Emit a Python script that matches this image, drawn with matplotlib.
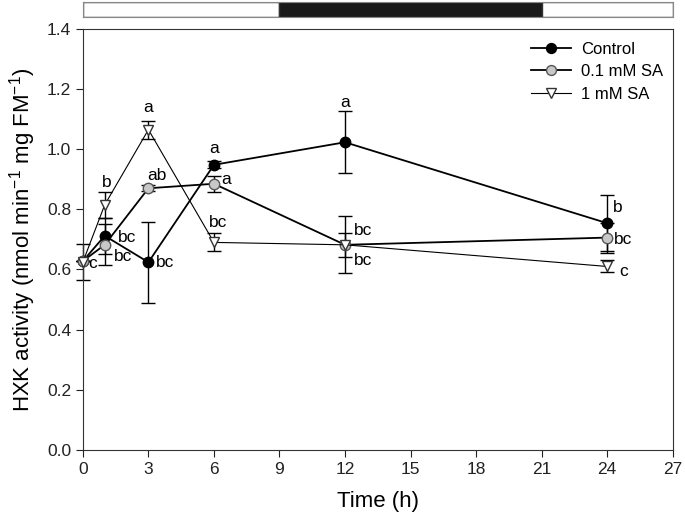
import matplotlib
matplotlib.use("Agg")
import matplotlib.pyplot as plt
import numpy as np

plt.rcParams['font.family'] = ['Liberation Sans', 'DejaVu Sans']
plt.rcParams['mathtext.fontset'] = 'custom'
plt.rcParams['mathtext.rm'] = 'Liberation Sans'
plt.rcParams['mathtext.it'] = 'Liberation Sans:italic'

# sampling times (h)
time_h = [0, 1, 3, 6, 12, 24]

# HXK activity, nmol min-1 mg FM-1
control = [0.628, 0.712, 0.624, 0.948, 1.023, 0.754]
control_err = [0.0, 0.06, 0.134, 0.012, 0.103, 0.093]
sa_01 = [0.628, 0.682, 0.870, 0.885, 0.682, 0.706]
sa_01_err = [0.0, 0.068, 0.010, 0.027, 0.095, 0.05]
sa_1 = [0.625, 0.815, 1.065, 0.690, 0.682, 0.610]
sa_1_err = [0.06, 0.044, 0.03, 0.03, 0.04, 0.02]

# significance letters
control_letters = ["", "bc", "bc", "a", "a", "b"]
sa_01_letters = ["", "bc", "ab", "a", "bc", "bc"]
sa_1_letters = ["c", "b", "a", "bc", "bc", "c"]

# light / dark periods for the bar on top
period_start = [0, 9, 21]
period_len = [9, 12, 6]
period_color = ["white", "#1a1a1a", "white"]

# letter offsets in pixels (placement only)
control_off = [(0, 0), (22, -2), (17, 0), (0, 16), (0, 40), (11, 16)]
sa_01_off = [(0, 0), (18, -12), (9, 13), (12, 4), (18, 14), (16, -2)]
sa_1_off = [(10, -2), (2, 22), (0, 22), (4, 20), (18, -16), (16, -5)]

fig = plt.figure(figsize=(6.85, 5.25), dpi=100)
ax = fig.add_axes([0.121, 0.143, 0.861, 0.802])
bar_ax = fig.add_axes([0.121, 0.968, 0.861, 0.0286])

series = [
    ("Control", control, control_err, dict(marker="o", color="black", mfc="black", mec="black", lw=1.3, ms=7.5)),
    ("0.1 mM SA", sa_01, sa_01_err, dict(marker="o", color="black", mfc="#c8c8c8", mec="#555555", lw=1.3, ms=7.5)),
    ("1 mM SA", sa_1, sa_1_err, dict(marker="v", color="black", mfc="white", mec="#333333", lw=0.8, ms=7)),
]

handles = []
for name, vals, err, st in series:
    eb = ax.errorbar(time_h, vals, yerr=err, fmt="none", ecolor="black", elinewidth=1.0,
                     capsize=5, capthick=1.0, zorder=2)
    for art in eb.lines[1] + eb.lines[2]:
        art.set_clip_on(False)
    h, = ax.plot(time_h, vals, linestyle="-", label=name, zorder=3, clip_on=False, **st)
    handles.append(h)

for vals, letters, offs in [(control, control_letters, control_off),
                            (sa_01, sa_01_letters, sa_01_off),
                            (sa_1, sa_1_letters, sa_1_off)]:
    for t, v, lab, off in zip(time_h, vals, letters, offs):
        if lab:
            ax.annotate(lab, (t, v), xytext=off, textcoords="offset pixels",
                        ha="center", va="center", fontsize=12.5)

ax.set_xlim(0, 27)
ax.set_ylim(0, 1.4)
ax.set_xticks(np.arange(0, 28, 3))
ax.set_yticks(np.arange(0, 1.41, 0.2))
ax.set_yticklabels(["%.1f" % v for v in np.arange(0, 1.41, 0.2)])
ax.tick_params(direction="out", length=5, labelsize=12.5, colors="#222222")
for s in ax.spines.values():
    s.set_color("#333333")
ax.set_xlabel("Time (h)", fontsize=16, labelpad=10)
ax.set_ylabel("HXK activity (nmol min$^{-1}$ mg FM$^{-1}$)", fontsize=16, labelpad=6)

leg = ax.legend(handles=handles, loc="upper right", frameon=False, fontsize=12,
                markerscale=0.95, handlelength=2.4, bbox_to_anchor=(1.01, 1.005),
                labelspacing=0.45, handletextpad=0.6)

bar_ax.barh([0, 0, 0], period_len, left=period_start, color=period_color,
            edgecolor="#333333", height=1.0, linewidth=1.0)
bar_ax.set_xlim(0, 27)
bar_ax.set_ylim(-0.5, 0.5)
bar_ax.set_xticks([])
bar_ax.set_yticks([])
for s in bar_ax.spines.values():
    s.set_color("#888888")

fig.savefig("out.png", dpi=100)
